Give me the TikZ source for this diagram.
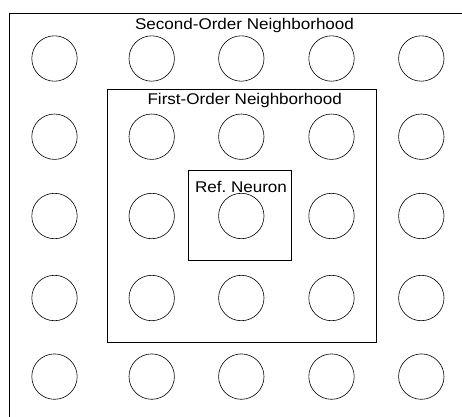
\documentclass[tikz,border=0pt]{standalone}
\usepackage{fontspec}
\setmainfont{Liberation Sans}[FakeStretch=1.1]
\usepackage{tikz}
\usetikzlibrary{positioning}

\begin{document}
\begin{tikzpicture}[
    x=1pt, y=-1pt,
    font=\fontsize{15.5}{18}\selectfont,
    neuron/.style={
      draw,
      circle,
      line width=0.6pt,
      minimum size=45.4pt,
      inner sep=0pt
    },
    hood/.style={draw, line width=0.8pt},
    title/.style={inner sep=0pt, anchor=base}
  ]
    \useasboundingbox (0,0) rectangle (462,416);
    \clip (0,0) rectangle (462,416);
    % second-order frame runs past the right and bottom edges
    \draw[hood] (9,13) rectangle (480,430);
    \draw[hood] (107,89) rectangle (376.7,342.7);
    \draw[hood] (188.3,170.7) rectangle (291,260.7);
    \node[title] (second) at (244.5,29) {Second-Order Neighborhood};
    \node[title] (first) at (244.7,104.5) {First-Order Neighborhood};
    \node[title] (ref) at (241,192) {Ref.\ Neuron};
    % 5x5 grid of neurons
    \foreach \r/\y in {1/58.5,2/136.7,3/216,4/298,5/376.6}
      \foreach \c/\x in {1/54.5,2/151.7,3/241.3,4/331.5,5/421.3}
        \node[neuron] (n-\r-\c) at (\x,\y) {};
  \end{tikzpicture}
\end{document}
